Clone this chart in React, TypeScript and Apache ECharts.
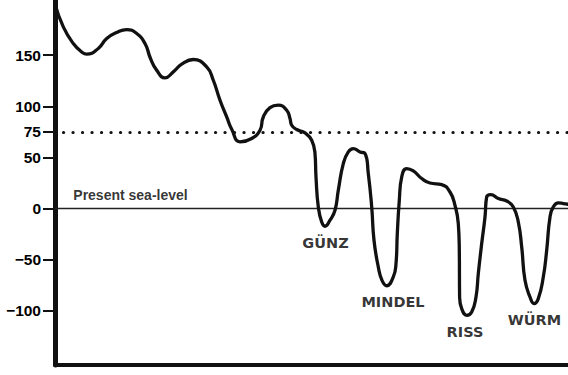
import React, { useEffect, useRef } from "react";
import * as echarts from "echarts";

// time axis (arbitrary units, unlabeled) and sea level in metres
const timeX = [
  0, 8.3, 18.3, 26.7, 31.7, 43.3, 51.7, 61.7, 71.7, 81.7, 90, 95.5, 101.7, 110, 118.3, 126.7, 138.3,
  151.7, 158.3, 165, 171.7, 176.7, 185, 196.7, 205, 208.3, 215, 223.3, 231.7, 235, 236.7, 241.7,
  250, 256.7, 260, 261, 263.3, 266.7, 270, 275, 280, 283.3, 288.3, 293.3, 298.3, 305, 310, 313.3,
  316.7, 319, 323.3, 327, 331.7, 338.3, 341, 342.3, 344.3, 346.7, 351.7, 358.3, 366.7, 375, 386.7,
  395, 400, 403.3, 404.3, 404.6, 406.7, 411.7, 416.7, 421, 423.3, 426.7, 430, 431.7, 435.7, 443.3,
  451.7, 458.3, 463.3, 466.7, 470, 475, 479, 483.3, 488.3, 491.7, 495, 498.3, 503.3, 508.3, 513,
];
const seaLevel = [
  200, 177.7, 161.4, 153.2, 151, 156.6, 166.3, 172.2, 175.1, 171.2, 161.4, 146.8, 135.3, 127.8,
  133.7, 141.2, 145.8, 138.6, 125.5, 106, 89.6, 77.6, 65.2, 68.5, 76.6, 89.6, 98.8, 101.1, 96.2,
  88.1, 81.5, 77.3, 74, 66.8, 53.8, 30.9, 1.6, -13.1, -17.3, -11.4, -1.7, 17.9, 44, 55.4, 58.7,
  55.4, 53.8, 34.2, 1.6, -31, -57.1, -70.2, -75.5, -66.9, -53.8, -24.5, 8.1, 30.9, 39.1, 36.8,
  29.4, 25, 23.5, 16.2, 3.2, -14.7, -40.8, -86.5, -97.8, -104.4, -101.2, -86.5, -63.6, -34.2,
  -8.2, 11.4, 13.7, 9.8, 7.4, 1.6, -13.1, -37.6, -70.2, -86.5, -93, -88.1, -66.9, -40.8, -8.2,
  1.6, 5.5, 4.9, 4.2,
];

const yTicks = [150, 100, 75, 50, 0, -50, -100];
const dottedLevel = 75;
const presentLevel = 0;

const glacialNames = ["GÜNZ", "MINDEL", "RISS", "WÜRM"];
const glacialX = [270.5, 338, 410, 479.5];
const glacialY = [-34, -91.7, -121, -109.3];

const seaLabel = "Present sea-level";
const seaLabelX = 75.5;
const seaLabelY = 13;

export default function App() {
  const ref = useRef<HTMLDivElement>(null);
  useEffect(() => {
    if (!ref.current) return;
    const chart = echarts.init(ref.current, null, { renderer: "svg" });
    const ink = "#111";
    chart.setOption({
      animation: false,
      backgroundColor: "#fff",
      grid: { left: 55, right: 0, top: 0, bottom: 10, containLabel: false },
      xAxis: {
        type: "value",
        min: 0,
        max: 513,
        axisLine: { show: true, onZero: false, lineStyle: { color: ink, width: 4 } },
        axisTick: { show: false },
        axisLabel: { show: false },
        splitLine: { show: false },
      },
      yAxis: {
        type: "value",
        min: -153,
        max: 204,
        axisLine: { show: true, onZero: false, lineStyle: { color: ink, width: 5 } },
        axisTick: {
          show: true,
          length: 12,
          customValues: yTicks,
          lineStyle: { color: ink, width: 2 },
        },
        axisLabel: {
          show: true,
          customValues: yTicks,
          margin: 14,
          color: "#000",
          fontFamily: "Liberation Sans",
          fontWeight: "bold",
          fontSize: 15.5,
          formatter: (v: number) => (v < 0 ? "\u2212" + Math.abs(v) : String(v)),
        },
        splitLine: { show: false },
      },
      series: [
        {
          type: "line",
          data: timeX.map((x, i) => [x, seaLevel[i]]),
          showSymbol: false,
          smooth: 0.5,
          lineStyle: { color: ink, width: 3.3, cap: "round", join: "round" },
          z: 5,
          markLine: {
            silent: true,
            symbol: "none",
            label: { show: false },
            data: [
              {
                yAxis: presentLevel,
                lineStyle: { color: "#222", width: 1.3, type: "solid" },
              },
              {
                yAxis: dottedLevel,
                lineStyle: {
                  color: ink,
                  width: 3.2,
                  type: [0.1, 9.4],
                  dashOffset: 1.4,
                  cap: "round",
                },
              },
            ],
          },
        },
        {
          type: "scatter",
          symbolSize: 0,
          silent: true,
          data: glacialNames.map((n, i) => ({ name: n, value: [glacialX[i], glacialY[i]] })),
          label: {
            show: true,
            position: "inside",
            formatter: "{b}",
            color: "#000",
            fontFamily: "DejaVu Sans",
            fontWeight: "bold",
            fontSize: 14.5,
          },
        },
        {
          type: "scatter",
          symbolSize: 0,
          silent: true,
          data: [{ name: seaLabel, value: [seaLabelX, seaLabelY] }],
          label: {
            show: true,
            position: "inside",
            formatter: "{b}",
            color: "#000",
            fontFamily: "Liberation Sans",
            fontWeight: "bold",
            fontSize: 14,
          },
        },
      ],
    });
    return () => chart.dispose();
  }, []);
  return <div ref={ref} style={{ width: 568, height: 375, position: "absolute", left: 0, top: 0 }} />;
}
